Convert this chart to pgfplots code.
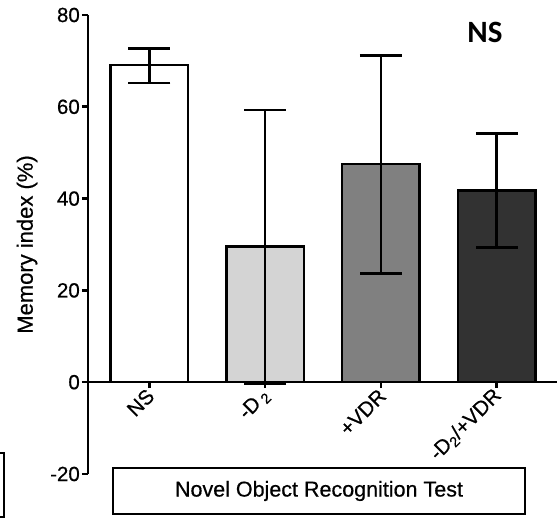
\documentclass[border=0pt]{standalone}
\usepackage{pgfplots}
\pgfplotsset{compat=1.18}
\usepackage{fontspec}
\setmainfont[FakeBold=0.5]{Liberation Sans}
\newfontfamily\calib{Carlito}
\definecolor{lgray}{RGB}{212,212,212}
\definecolor{mgray}{RGB}{128,128,128}
\definecolor{dgray}{RGB}{50,50,50}
\begin{document}
\begin{tikzpicture}
\useasboundingbox (-88pt,-44pt) rectangle (469pt,474pt);
\begin{axis}[
  at={(0,0)}, anchor=south west,
  scale only axis, width=469pt, height=459pt,
  xmin=-0.53, xmax=3.52, ymin=-20, ymax=80,
  axis x line=middle, axis y line=left,
  x axis line style={-, line width=2.6pt},
  y axis line style={-, line width=2.6pt},
  tick align=outside, major tick length=6pt,
  tick style={line width=2.6pt, black},
  xtick={0,1,2,3},
  xticklabels={NS, -D\,\textsubscript{2}, +VDR, -D\textsubscript{2}/+VDR},
  ytick={-20,0,20,40,60,80},
  /pgf/number format/assume math mode=true,
  tick label style={font=\fontsize{20.5}{24}\selectfont},
  xticklabel style={rotate=45, anchor=east, inner sep=2pt, yshift=-4pt},
  yticklabel style={inner sep=2pt},
  ylabel={Memory index (\%)},
  every axis y label/.style={at={(axis description cs:-0.13,0.5)}, rotate=90, anchor=center, font=\fontsize{22}{26}\selectfont},
  ybar, bar width=0.67, bar shift=0pt,
  every axis plot/.append style={draw=black, line width=2.6pt},
  error bars/y dir=both, error bars/y explicit,
  error bars/error bar style={line width=2.6pt, black},
  error bars/error mark options={rotate=90, mark size=21pt, line width=2.6pt, black},
]
\addplot[fill=white] coordinates {(0,69.1) += (0,3.6) -= (0,3.9)};
\addplot[fill=lgray] coordinates {(1,29.6) += (0,29.7) -= (0,29.9)};
\addplot[fill=mgray] coordinates {(2,47.5) += (0,23.7) -= (0,23.8)};
\addplot[fill=dgray] coordinates {(3,41.8) += (0,12.4) -= (0,12.4)};
\end{axis}
\node[font=\calib\bfseries\fontsize{31}{36}\selectfont] at (397pt,442pt) {NS};
\draw[line width=1.6pt, fill=white] (25pt,6pt) rectangle (437pt,-40pt);
\node[font=\fontsize{21.5}{26}\selectfont] at (231pt,-17pt) {Novel Object Recognition Test};
\draw[line width=1.6pt] (-88pt,21pt) -- (-84pt,21pt) -- (-84pt,-43pt) -- (-88pt,-43pt);
\end{tikzpicture}
\end{document}
